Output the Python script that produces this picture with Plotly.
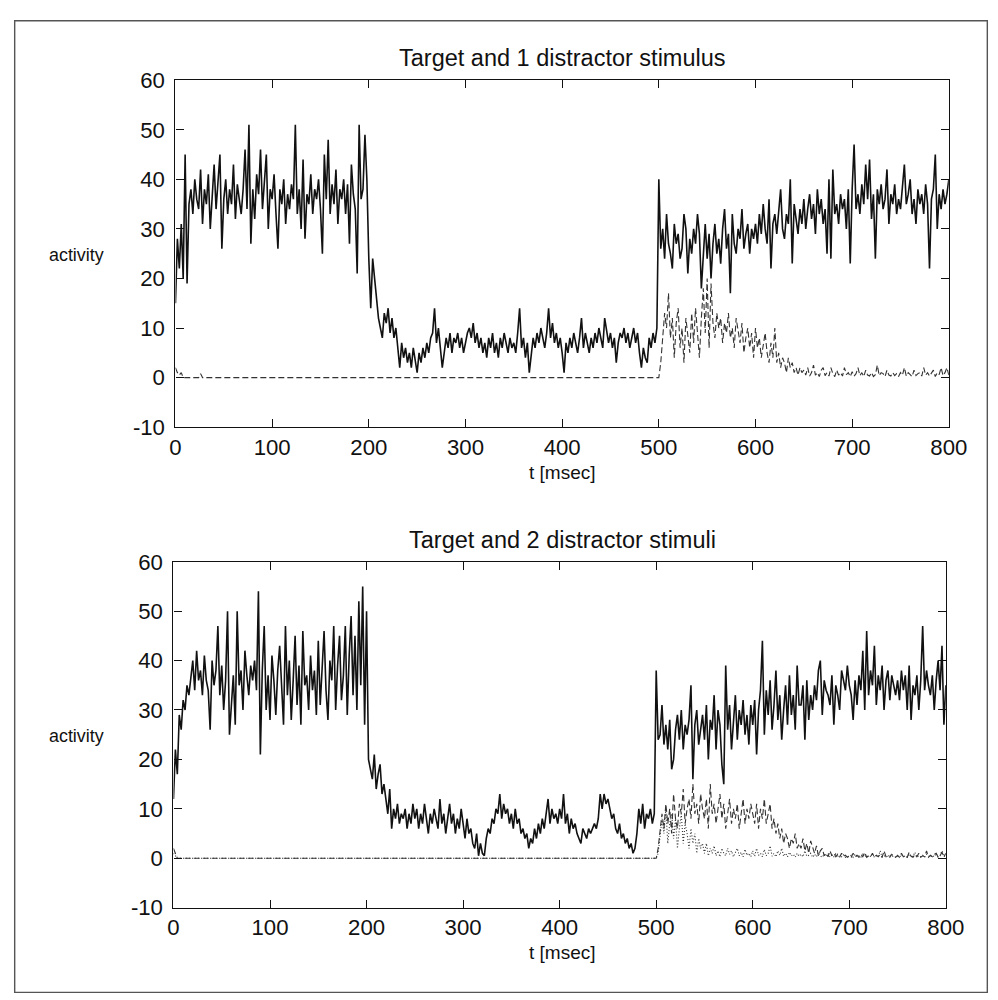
import plotly.graph_objects as go

# ---------------- data (sampled every 2 ms) ----------------
STEP = 2
# Top panel: target neuron activity, t = 0..800
target1 = [
    15, 28, 22, 31, 20, 45, 19, 35, 38, 33, 40, 36, 34, 42, 31, 38, 35, 41, 30, 37, 43, 34, 39, 45, 26,
    36, 40, 33, 38, 35, 43, 32, 39, 36, 33, 38, 46, 34, 51, 27, 38, 32, 41, 37, 46, 34, 39, 45, 30, 38,
    36, 41, 33, 26, 38, 35, 40, 31, 37, 34, 39, 36, 51, 33, 38, 30, 44, 28, 37, 35, 41, 33, 38, 36, 40,
    34, 25, 45, 36, 48, 33, 39, 35, 42, 31, 38, 36, 40, 33, 39, 27, 43, 37, 34, 21, 51, 36, 38, 49, 40,
    24, 14, 24, 20, 16, 12, 10, 8, 13, 11, 14, 9, 12, 8, 10, 6, 2, 7, 4, 6, 3, 5, 2, 6, 3,
    1, 5, 3, 6, 4, 7, 5, 8, 9, 14, 7, 10, 6, 2, 5, 8, 6, 9, 5, 8, 7, 9, 6, 8, 5,
    7, 9, 10, 8, 11, 7, 9, 6, 8, 5, 7, 4, 8, 6, 9, 5, 7, 4, 8, 6, 9, 7, 5, 8, 6,
    7, 5, 9, 14, 6, 8, 4, 7, 1, 5, 8, 6, 9, 7, 10, 8, 6, 9, 14, 8, 11, 7, 9, 6, 8,
    5, 1, 7, 5, 8, 6, 9, 7, 5, 8, 12, 6, 9, 7, 5, 8, 6, 9, 7, 10, 8, 6, 12, 9, 7,
    9, 6, 8, 3, 7, 9, 8, 10, 7, 9, 6, 8, 10, 7, 9, 5, 2, 6, 4, 3, 8, 6, 9, 7, 10,
    40, 26, 30, 24, 33, 27, 25, 22, 31, 27, 29, 24, 26, 33, 30, 21, 28, 25, 30, 27, 33, 29, 18, 26, 31,
    24, 29, 20, 27, 31, 25, 28, 23, 30, 34, 26, 29, 17, 33, 27, 25, 30, 28, 34, 26, 29, 31, 25, 30, 28,
    31, 27, 33, 29, 35, 30, 27, 36, 22, 31, 33, 29, 34, 38, 30, 28, 33, 31, 40, 23, 35, 32, 29, 34, 31,
    36, 30, 34, 37, 32, 35, 29, 38, 33, 36, 31, 34, 25, 40, 24, 42, 33, 35, 31, 37, 34, 36, 30, 38, 23,
    38, 47, 34, 37, 33, 39, 35, 43, 36, 44, 32, 37, 24, 38, 35, 39, 34, 36, 42, 31, 37, 35, 39, 33, 36,
    34, 38, 43, 35, 37, 40, 33, 36, 31, 38, 35, 37, 33, 39, 35, 22, 36, 38, 45, 30, 37, 34, 38, 35, 37,
    40,
]
# Top panel: distractor (early blips, then from t = 500 on)
dist1_early_t = [0, 2, 4, 6, 8, 24, 26, 28, 498]
dist1_early_v = [2, 1, 0.5, 1, 0, 0, 0.8, 0, 0]
dist1_late = [
    0, 3, 8, 13, 10, 17, 8, 12, 4, 11, 14, 6, 10, 3, 12, 8, 5, 13, 7, 14, 9, 4, 12, 18, 9,
    20, 6, 19, 11, 8, 13, 10, 12, 7, 11, 9, 13, 8, 10, 6, 12, 9, 7, 11, 5, 8, 10, 6, 9, 4,
    10, 6, 8, 4, 7, 9, 5, 3, 7, 4, 10, 3, 5, 2, 4, 3, 1, 4, 2, 3, 1, 2, 0.5, 2, 1,
    1.5, 0.5, 2, 0.3, 1, 2.5, 0.5, 1, 0.2, 1.5, 2, 0.4, 1, 0.3, 2, 0.8, 0.2, 1.5, 0.5, 1, 0.3, 2, 0.6, 1, 0.2,
    1.2, 0.3, 0.8, 2, 0.4, 1, 0.2, 1.5, 0.5, 0.3, 1, 0.2, 0.6, 2.5, 0.4, 1, 0.8, 0.2, 1.5, 0.5, 0.3, 1, 0.4, 0.8, 0.2,
    1, 0.5, 2, 0.3, 1, 0.6, 0.2, 1.5, 0.4, 0.8, 1, 0.3, 2, 0.5, 1, 0.3, 0.8, 1.5, 0.2, 1, 0.6, 2, 0.4, 1, 2, 0.5,
]

# Bottom panel: target neuron activity, t = 0..800
target2 = [
    12, 22, 17, 29, 26, 32, 30, 35, 33, 36, 40, 34, 42, 36, 38, 33, 41, 36, 34, 26, 40, 35, 38, 47, 33,
    39, 30, 36, 50, 25, 32, 37, 27, 50, 35, 38, 30, 42, 37, 33, 39, 36, 40, 34, 54, 21, 38, 47, 30, 37,
    28, 41, 36, 29, 38, 43, 35, 27, 47, 33, 40, 28, 36, 45, 31, 39, 27, 46, 35, 37, 30, 41, 34, 38, 29,
    44, 31, 38, 46, 34, 28, 40, 36, 47, 30, 39, 45, 32, 37, 47, 29, 41, 49, 33, 45, 30, 52, 35, 55, 27,
    50, 20, 18, 16, 21, 14, 17, 19, 13, 15, 12, 9, 14, 6, 10, 8, 11, 7, 9, 8, 10, 6, 9, 7, 11,
    8, 10, 6, 9, 7, 11, 8, 5, 9, 7, 10, 8, 6, 12, 7, 9, 5, 8, 11, 7, 9, 5, 8, 6, 10,
    7, 4, 8, 5, 6, 3, 2, 5, 0.5, 3, 1, 0.5, 4, 6, 5, 8, 7, 10, 9, 13, 8, 11, 9, 10, 7,
    9, 6, 10, 7, 8, 5, 6, 4, 5, 2, 4, 3, 6, 4, 7, 5, 8, 6, 9, 12, 7, 10, 8, 9, 7,
    10, 8, 13, 7, 9, 5, 8, 6, 7, 5, 4, 3, 6, 5, 4, 6, 5, 6, 7, 6, 8, 13, 10, 13, 11,
    12, 10, 8, 9, 6, 5, 7, 4, 5, 3, 4, 2, 3, 1, 2, 5, 10, 7, 11, 6, 9, 8, 10, 7, 9,
    38, 24, 25, 31, 23, 27, 22, 28, 18, 20, 26, 29, 24, 30, 22, 27, 25, 28, 35, 16, 27, 30, 23, 26, 29,
    24, 31, 20, 28, 26, 33, 22, 30, 27, 19, 15, 39, 26, 31, 22, 28, 33, 24, 30, 27, 32, 25, 29, 23, 31,
    27, 32, 21, 30, 34, 44, 25, 34, 29, 36, 26, 31, 38, 28, 33, 24, 30, 35, 27, 37, 29, 33, 26, 39, 31,
    31, 35, 24, 36, 28, 33, 30, 35, 32, 38, 40, 29, 36, 34, 33, 31, 37, 27, 35, 33, 30, 38, 36, 34, 39,
    35, 33, 28, 36, 31, 37, 34, 42, 30, 46, 33, 38, 35, 43, 31, 37, 34, 39, 30, 36, 38, 32, 37, 35, 33,
    36, 32, 38, 34, 37, 30, 39, 28, 35, 33, 37, 30, 36, 47, 34, 38, 35, 33, 37, 30, 36, 40, 34, 43, 27,
    35,
]
# Bottom panel: two distractors
dist2_early_t = [0, 2, 4, 498]
dist2a_early_v = [2, 1, 0, 0]
dist2b_early_v = [1, 0.5, 0, 0]
dist2a_late = [
    0, 2, 5, 9, 6, 11, 7, 10, 5, 13, 8, 6, 11, 9, 14, 7, 10, 12, 8, 15, 9, 11, 7, 13, 10,
    8, 12, 6, 15, 9, 11, 7, 10, 13, 8, 11, 6, 9, 12, 7, 10, 8, 11, 6, 9, 12, 7, 10, 8, 11,
    9, 7, 11, 6, 10, 8, 12, 7, 9, 11, 6, 8, 5, 7, 4, 6, 3, 5, 4, 2, 4, 3, 5, 2, 3,
    2, 4, 1.5, 3, 1, 3.5, 2, 1, 2.5, 0.5, 1.5, 2, 0.5, 1, 0.3, 1.5, 0.5, 1, 0.3, 0.8, 0.2, 1, 0.4, 0.6, 0.2,
    0.5, 0.2, 1, 0.3, 0.6, 0.2, 0.8, 0.3, 1.2, 0.2, 0.5, 0.3, 1, 0.2, 0.6, 0.3, 0.8, 0.2, 1.5, 0.3, 0.5, 0.2, 0.8, 0.4, 0.2,
    0.6, 0.2, 1, 0.3, 0.5, 0.2, 1.2, 0.4, 0.2, 0.8, 0.3, 1, 0.2, 0.5, 0.3, 1.5, 0.2, 0.6, 0.3, 0.8, 1, 0.2, 0.5, 1.2, 0.3, 1,
]
dist2b_late = [
    0, 1, 4, 8, 5, 10, 3, 7, 9, 4, 8, 2, 6, 9, 3, 7, 5, 2, 6, 3, 5, 1, 4, 2, 3,
    1, 3, 0.5, 2, 1, 2.5, 0.5, 1.5, 0.3, 2, 1, 0.5, 2, 0.8, 1.5, 0.3, 1, 2, 0.5, 1.2, 0.3, 1.8, 0.6, 1, 0.3,
    1.5, 0.4, 2, 0.6, 1, 0.3, 1.8, 0.5, 1, 2.5, 0.4, 1, 0.3, 1.5, 0.6, 2, 0.4, 1, 0.3, 1.2, 0.5, 0.8, 0.2, 1, 0.4,
    0.8, 0.3, 1.5, 0.4, 0.6, 1, 0.2, 0.8, 0.3, 1.2, 0.5, 0.2, 0.8, 0.4, 1, 0.2, 0.6, 0.3, 0.9, 0.2, 0.5, 0.3, 0.7, 0.2, 0.4,
    0.3, 0.6, 0.2, 0.8, 0.3, 0.5, 0.2, 1, 0.3, 0.6, 0.2, 0.4, 0.8, 0.2, 0.5, 0.3, 1.5, 0.2, 0.4, 0.6, 0.2, 0.8, 0.3, 0.5, 0.2,
    0.4, 0.2, 0.7, 0.3, 0.5, 0.2, 0.9, 0.3, 0.4, 1.2, 0.2, 0.5, 0.3, 0.6, 0.2, 0.8, 0.4, 0.2, 0.6, 0.3, 1, 0.2, 0.5, 1.5, 0.3, 0.8,
]

titles = ["Target and 1 distractor stimulus", "Target and 2 distractor stimuli"]
x_label = "t [msec]"
y_label = "activity"
x_ticks = [0, 100, 200, 300, 400, 500, 600, 700, 800]
y_ticks = [-10, 0, 10, 20, 30, 40, 50, 60]
y_ticktext = ["-10", "0", "10", "20", "30", "40", "50", "60"]

# ---------------- figure ----------------
def times(n, start=0):
    return [start + STEP * i for i in range(n)]

FONT = "Liberation Sans, Arial, Helvetica, sans-serif"
INK = "#111111"
W, H = 998, 1000
# the captured page shows the figure scaled by S and shifted by (OX, OY)
S, OX, OY = 0.978, 13.2, 18.6

def px(x):               # target picture x pixel -> paper fraction
    return ((x - OX) / S) / W

def py(y):               # target picture y pixel -> paper fraction
    return 1 - ((y - OY) / S) / H

def fs(size):            # target font size -> layout font size
    return size / S

fig = go.Figure()

def add_line(x, y, ax, dash="solid", width=1.0, color=INK):
    fig.add_trace(go.Scatter(x=x, y=y, mode="lines", xaxis=ax[0], yaxis=ax[1],
                             line=dict(color=color, width=width, dash=dash),
                             showlegend=False, hoverinfo="skip"))

# top panel
add_line(dist1_early_t + times(len(dist1_late), 500), dist1_early_v + dist1_late,
         ("x", "y"), dash="6px,3px", width=1.1, color="#333333")
add_line(times(len(target1)), target1, ("x", "y"), width=1.6)
# bottom panel
add_line(dist2_early_t + times(len(dist2b_late), 500), dist2b_early_v + dist2b_late,
         ("x2", "y2"), dash="1px,2px", width=1.1, color="#333333")
add_line(dist2_early_t + times(len(dist2a_late), 500), dist2a_early_v + dist2a_late,
         ("x2", "y2"), dash="6px,3px", width=1.1, color="#333333")
add_line(times(len(target2)), target2, ("x2", "y2"), width=1.6)

panels = [  # (x0, x1, ytop, ybottom) in target picture pixels
    (175, 950, 79, 427),
    (173, 947, 562, 909),
]

axis_common = dict(showline=True, linecolor=INK, linewidth=1.2, mirror="ticks",
                   ticks="inside", ticklen=8, tickwidth=1.2, tickcolor=INK,
                   showgrid=False, zeroline=False,
                   tickfont=dict(family=FONT, size=fs(21.7), color=INK))

layout = dict(width=W, height=H, margin=dict(l=0, r=0, t=0, b=0),
              paper_bgcolor="white", plot_bgcolor="white", showlegend=False)
annotations = []
for i, (x0, x1, yt, yb) in enumerate(panels):
    sfx = "" if i == 0 else str(i + 1)
    layout["xaxis" + sfx] = dict(axis_common, domain=[px(x0), px(x1)], range=[0, 800],
                                 tickvals=x_ticks, anchor="y" + sfx)
    layout["yaxis" + sfx] = dict(axis_common, domain=[py(yb), py(yt)], range=[-10, 60],
                                 tickvals=y_ticks, ticktext=y_ticktext, anchor="x" + sfx,
                                 ticklabelstandoff=5)
    cx = px(563)
    annotations.append(dict(text=titles[i], x=cx, y=py(yt - 22), xref="paper", yref="paper",
                            xanchor="center", yanchor="middle", showarrow=False,
                            font=dict(family=FONT, size=fs(23), color=INK)))
    annotations.append(dict(text=x_label, x=cx, y=py(yb + 45), xref="paper", yref="paper",
                            xanchor="center", yanchor="middle", showarrow=False,
                            font=dict(family=FONT, size=fs(18.6), color=INK)))
    annotations.append(dict(text=y_label, x=px(76), y=py((yt + yb) / 2 + 1), xref="paper", yref="paper",
                            xanchor="center", yanchor="middle", showarrow=False,
                            font=dict(family=FONT, size=fs(17.5), color=INK)))
layout["annotations"] = annotations
layout["shapes"] = [dict(type="rect", xref="paper", yref="paper",
                         x0=0.7 / W, x1=1 - 0.7 / W, y0=py(994), y1=1 - 0.7 / H,
                         line=dict(color="#555555", width=1.4))]
fig.update_layout(**layout)
fig.write_html("out.html")
